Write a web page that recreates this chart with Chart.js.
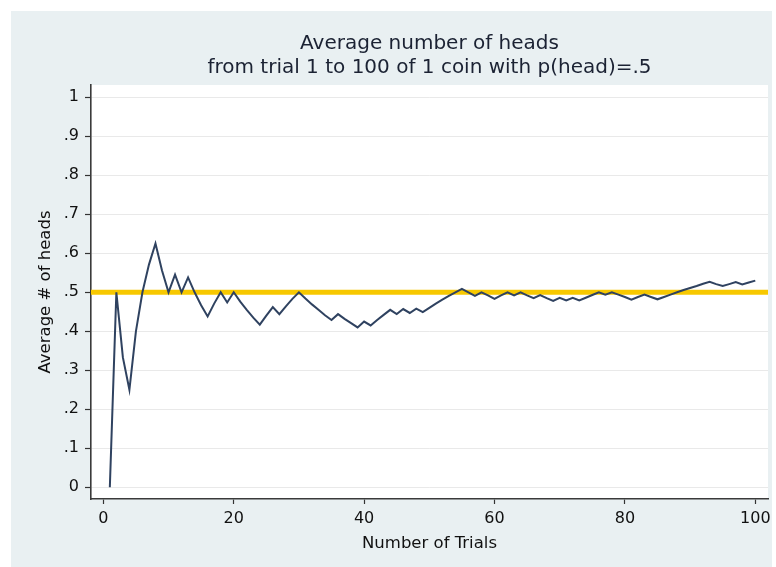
<!DOCTYPE html>
<html>
<head>
<meta charset="utf-8">
<script src="https://cdn.jsdelivr.net/npm/chart.js@4.4.1/dist/chart.umd.min.js"></script>
<style>
  html, body { margin: 0; padding: 0; background: #ffffff; }
  canvas { display: block; }
</style>
</head>
<body>
<canvas id="coinChart" width="776" height="567"></canvas>
<script>
// trial number (x) and running average of heads (y)
const trials = Array.from({ length: 100 }, (_, i) => i + 1);
const avgHeads = [
  0, .5, .333, .25, .4, .5, .571, .625, .556, .5,
  .545, .5, .538, .5, .467, .438, .471, .5, .474, .5,
  .476, .455, .435, .417, .44, .462, .444, .464, .483, .5,
  .484, .469, .455, .441, .429, .444, .432, .421, .41, .425,
  .415, .429, .442, .455, .444, .457, .447, .458, .449, .46,
  .471, .481, .491, .5, .509, .5, .491, .5, .492, .483,
  .492, .5, .492, .5, .492, .485, .493, .485, .478, .486,
  .479, .486, .479, .486, .493, .5, .494, .5, .494, .488,
  .481, .488, .494, .488, .482, .488, .494, .5, .506, .511,
  .516, .522, .527, .521, .516, .521, .526, .52, .525, .53
];
const refValue = 0.5;

const xTicks = [0, 20, 40, 60, 80, 100];
const yTicks = [0, .1, .2, .3, .4, .5, .6, .7, .8, .9, 1];
const yTickLabels = ["0", ".1", ".2", ".3", ".4", ".5", ".6", ".7", ".8", ".9", "1"];

const xMin = -1.89, xMax = 101.95;
const yMin = -0.03, yMax = 1.0315;

Chart.defaults.font.family = "'DejaVu Sans', sans-serif";
Chart.defaults.color = "#111111";

// light outer panel + white plot region, like the stata scheme
const panels = {
  id: "panels",
  beforeDraw(chart) {
    const { ctx, chartArea: a } = chart;
    ctx.save();
    ctx.fillStyle = "#ffffff";
    ctx.fillRect(0, 0, chart.width, chart.height);
    ctx.fillStyle = "#e9f0f2";
    ctx.fillRect(11, 11, 761, 556);
    ctx.fillStyle = "#ffffff";
    ctx.fillRect(a.left, a.top, a.right - a.left, a.bottom - a.top);
    ctx.restore();
  }
};

new Chart(document.getElementById("coinChart"), {
  type: "line",
  data: {
    datasets: [
      {
        data: avgHeads.map((v, i) => ({ x: trials[i], y: v })),
        borderColor: "#2f4260",
        borderWidth: 2,
        pointRadius: 0,
        tension: 0,
        order: 0
      },
      {
        data: [{ x: xMin, y: refValue }, { x: xMax, y: refValue }],
        borderColor: "#f7c800",
        borderWidth: 5,
        pointRadius: 0,
        order: 1
      }
    ]
  },
  options: {
    responsive: false,
    animation: false,
    devicePixelRatio: 1,
    layout: { padding: { left: 11, right: 8, top: 11, bottom: 0 } },
    plugins: {
      legend: { display: false },
      tooltip: { enabled: false },
      title: {
        display: true,
        fullSize: false,
        text: ["Average number of heads", "from trial 1 to 100 of 1 coin with p(head)=.5"],
        color: "#1b2233",
        font: { size: 20, weight: "normal", lineHeight: 1.2 },
        padding: { top: 20.7, bottom: 5.3 }
      }
    },
    scales: {
      x: {
        type: "linear",
        min: xMin,
        max: xMax,
        afterFit: (s) => { s.height = 68; },
        afterBuildTicks: (s) => { s.ticks = xTicks.map((v) => ({ value: v })); },
        grid: { drawOnChartArea: false, drawTicks: true, tickLength: 5, tickColor: "#333333", tickWidth: 1.2 },
        border: { color: "#3a3a3a", width: 1.6 },
        ticks: { padding: 5, font: { size: 16 }, maxRotation: 0 },
        title: {
          display: true,
          text: "Number of Trials",
          font: { size: 16.5 },
          padding: { top: 0, bottom: 13.6 }
        }
      },
      y: {
        type: "linear",
        min: yMin,
        max: yMax,
        afterFit: (s) => { s.width = 80; },
        afterBuildTicks: (s) => { s.ticks = yTicks.map((v) => ({ value: v })); },
        grid: { color: "#e9e9e9", lineWidth: 1, drawTicks: true, tickLength: 6, tickColor: "#333333", tickWidth: 1.2 },
        border: { color: "#3a3a3a", width: 1.6 },
        ticks: {
          padding: 6,
          font: { size: 16 },
          callback: (v) => yTickLabels[yTicks.indexOf(v)]
        },
        title: {
          display: true,
          text: "Average # of heads",
          font: { size: 16.5 },
          padding: { top: 25, bottom: 0 }
        }
      }
    }
  },
  plugins: [panels]
});
</script>
</body>
</html>
